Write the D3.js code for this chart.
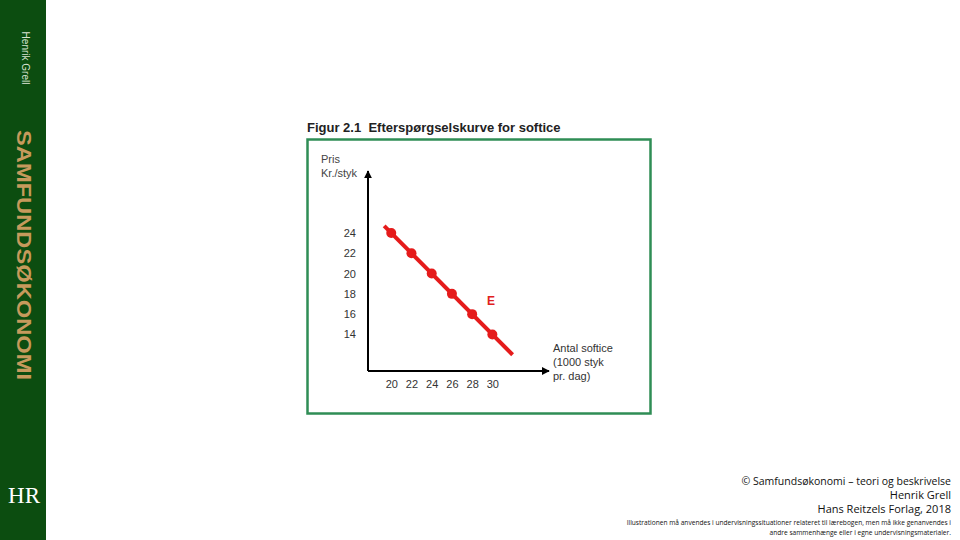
<!DOCTYPE html>
<html><head><meta charset="utf-8">
<script src="https://cdn.jsdelivr.net/npm/d3@7"></script>
<style>body{margin:0;background:#fff;}svg{display:block;}</style>
</head><body>
<svg id="c" width="960" height="540"></svg>
<script>
// Data
const quantity = [20, 22, 24, 26, 28, 30];          // 1000 styk pr. dag
const price    = [24, 22, 20, 18, 16, 14];          // Kr./styk
const curveQty   = [19.3, 32];                      // demand line ends
const curvePrice = [24.7, 12];
const xTicks = [20, 22, 24, 26, 28, 30];
const yTicks = [14, 16, 18, 20, 22, 24];
const title = "Figur 2.1\u00a0\u00a0Efterspørgselskurve for softice";
const yLabel = ["Pris", "Kr./styk"];
const xLabel = ["Antal softice", "(1000 styk", "pr. dag)"];
const curveLabel = "E";
const credits = ["© Samfundsøkonomi – teori og beskrivelse", "Henrik Grell", "Hans Reitzels Forlag, 2018"];
const notice = ["Illustrationen må anvendes i undervisningssituationer relateret til lærebogen, men må ikke genanvendes i",
                "andre sammenhænge eller i egne undervisningsmaterialer."];

const svg = d3.select("#c");
const font = "'Liberation Sans', Arial, sans-serif";

// Sidebar
svg.append("rect").attr("x",0).attr("y",0).attr("width",46).attr("height",540).attr("fill","#0c4d10");
svg.append("text").attr("transform","translate(22,58) rotate(90)").attr("text-anchor","middle")
  .attr("font-family",font).attr("font-size",10).attr("fill","#d8e2d0").text("Henrik Grell");
svg.append("text").attr("transform","translate(17,255) rotate(90)").attr("text-anchor","middle")
  .attr("font-family",font).attr("font-weight","bold").attr("font-size",20.5).attr("fill","#c69a5c")
  .attr("textLength",250).attr("lengthAdjust","spacingAndGlyphs").text("SAMFUNDSØKONOMI");
svg.append("text").attr("x",24).attr("y",503).attr("text-anchor","middle")
  .attr("font-family","'Liberation Serif', serif").attr("font-size",23).attr("fill","#ffffff").text("HR");

// Frame & title
svg.append("rect").attr("x",307.5).attr("y",139.5).attr("width",343).attr("height",274)
  .attr("fill","none").attr("stroke","#2f8d55").attr("stroke-width",2.5);
svg.append("text").attr("x",307).attr("y",132).attr("font-family",font).attr("font-weight","bold")
  .attr("font-size",13).attr("fill","#222").text(title);

// Scales
const x = d3.scaleLinear().domain([17.7, 35.6]).range([368, 549]);
const y = d3.scaleLinear().domain([10.4, 30.1]).range([371, 171]);

// Arrow marker
const defs = svg.append("defs");
defs.append("marker").attr("id","arr").attr("viewBox","0 0 10 10").attr("refX",9).attr("refY",5)
  .attr("markerWidth",4).attr("markerHeight",4).attr("orient","auto-start-reverse")
  .append("path").attr("d","M0,0L10,5L0,10z").attr("fill","#000");

// Axes
const xAxis = d3.axisBottom(x).tickValues(xTicks).tickSize(0).tickPadding(9);
const yAxis = d3.axisLeft(y).tickValues(yTicks).tickSize(0).tickPadding(12);
const gx = svg.append("g").attr("transform",`translate(0,${y(10.4)})`).call(xAxis);
const gy = svg.append("g").attr("transform",`translate(${x(17.7)},0)`).call(yAxis);
[gx, gy].forEach(g => {
  g.select(".domain").remove();
  g.selectAll("text").attr("font-family",font).attr("font-size",11).attr("fill","#333");
});
svg.append("line").attr("x1",x(17.7)).attr("y1",y(10.4)).attr("x2",x(35.6)).attr("y2",y(10.4))
  .attr("stroke","#000").attr("stroke-width",2).attr("marker-end","url(#arr)");
svg.append("line").attr("x1",x(17.7)).attr("y1",y(10.4)).attr("x2",x(17.7)).attr("y2",y(30.1))
  .attr("stroke","#000").attr("stroke-width",2).attr("marker-end","url(#arr)");

// Axis labels
yLabel.forEach((t,i) => svg.append("text").attr("x",321).attr("y",163 + i*14)
  .attr("font-family",font).attr("font-size",11).attr("fill","#444").text(t));
xLabel.forEach((t,i) => svg.append("text").attr("x",553).attr("y",352 + i*14)
  .attr("font-family",font).attr("font-size",11).attr("fill","#333").text(t));

// Demand curve
const curve = curveQty.map((q,i) => [q, curvePrice[i]]);
svg.append("path").datum(curve)
  .attr("d", d3.line().x(d => x(d[0])).y(d => y(d[1])))
  .attr("stroke","#e51b1b").attr("stroke-width",4).attr("fill","none");
svg.selectAll("circle.pt").data(quantity.map((q,i)=>[q,price[i]])).enter().append("circle")
  .attr("class","pt").attr("cx",d=>x(d[0])).attr("cy",d=>y(d[1])).attr("r",5).attr("fill","#e51b1b");
svg.append("text").attr("x",487).attr("y",305).attr("font-family",font).attr("font-weight","bold")
  .attr("font-size",12).attr("fill","#e02020").text(curveLabel);

// Credits
const cf = "'Open Sans', sans-serif";
const credY = [485, 499, 513], credS = [10.5, 11, 11];
credits.forEach((t,i) => svg.append("text").attr("x",951).attr("y",credY[i]).attr("text-anchor","end")
  .attr("font-family",cf).attr("font-size",credS[i]).attr("fill","#111").text(t));
const notY = [525, 535];
notice.forEach((t,i) => svg.append("text").attr("x",951).attr("y",notY[i]).attr("text-anchor","end")
  .attr("font-family",cf).attr("font-size",6.6).attr("fill","#111").text(t));
</script>
</body></html>
